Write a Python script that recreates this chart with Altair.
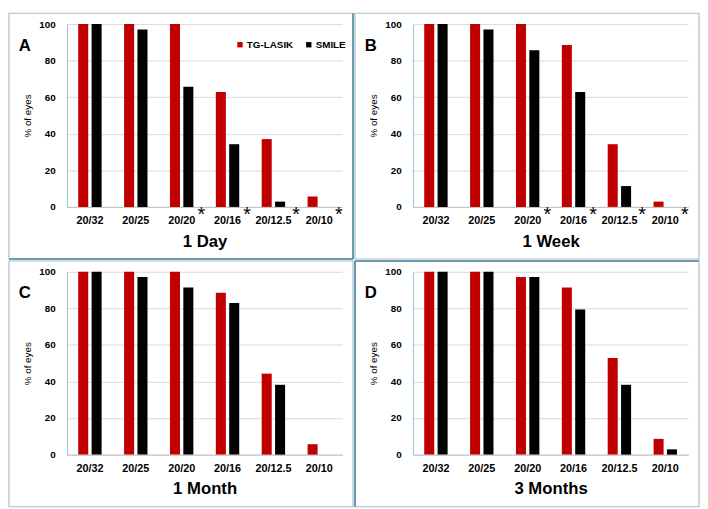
import altair as alt
import pandas as pd

categories = ["20/32", "20/25", "20/20", "20/16", "20/12.5", "20/10"]
groups = ["TG-LASIK", "SMILE"]
colors = ["#C00000", "#000000"]

letters = ["A", "B", "C", "D"]
titles = ["1 Day", "1 Week", "1 Month", "3 Months"]

tg_day = [100, 100, 100, 62.9, 37.1, 5.7]
smile_day = [100, 97.1, 65.7, 34.3, 2.9, 0]
tg_week = [100, 100, 100, 88.6, 34.3, 2.9]
smile_week = [100, 97.1, 85.7, 62.9, 11.4, 0]
tg_month = [100, 100, 100, 88.6, 44.3, 5.7]
smile_month = [100, 97.1, 91.4, 82.9, 38.2, 0]
tg_3month = [100, 100, 97.1, 91.4, 52.9, 8.6]
smile_3month = [100, 100, 97.1, 79.4, 38.2, 2.9]

stars_day = ["20/20", "20/16", "20/12.5", "20/10"]
stars_week = ["20/20", "20/16", "20/12.5", "20/10"]
stars_month = []
stars_3month = []

W, H = 280, 186
L, R, T, B = 59, 11, 11, 53
FONT = "Liberation Sans"
LIGHT = "#A9BDC9"
DARK = "#4A86A0"


def panel(letter, title, tg, sm, stars, legend_x, legend_gap, dividers):
    df = pd.DataFrame({
        "cat": categories * 2,
        "group": ["TG-LASIK"] * len(categories) + ["SMILE"] * len(categories),
        "value": tg + sm,
    })
    one = pd.DataFrame({"k": [0]})
    xaxis = alt.Axis(title=title, labelAngle=0, ticks=False,
                     domainColor="#BFBFBF", labelFontSize=11,
                     labelFontWeight="bold", labelPadding=8,
                     labelColor="#000000", titleFontSize=17,
                     titleFontWeight="bold", titlePadding=8,
                     titleColor="#000000", grid=False)
    xscale = alt.Scale(paddingInner=0.49, paddingOuter=0.245)
    bars = alt.Chart(df).mark_bar().encode(
        x=alt.X("cat:N", sort=categories, scale=xscale, axis=xaxis),
        xOffset=alt.XOffset("group:N", sort=groups,
                            scale=alt.Scale(paddingInner=0.25, paddingOuter=0)),
        y=alt.Y("value:Q", scale=alt.Scale(domain=[0, 100], nice=False),
                axis=alt.Axis(title="% of eyes", values=[0, 20, 40, 60, 80, 100],
                              ticks=False, domainColor="#9CC0D2",
                              grid=True, gridColor="#D9D9D9",
                              labelFontSize=10, labelFontWeight="bold",
                              labelPadding=12, labelColor="#000000",
                              titleFontSize=10, titleFontWeight="normal",
                              titlePadding=6, titleColor="#000000")),
        color=alt.Color("group:N", sort=groups,
                        scale=alt.Scale(domain=groups, range=colors),
                        legend=alt.Legend(orient="none", legendX=legend_x,
                                          legendY=16, direction="horizontal",
                                          title=None, symbolType="square",
                                          symbolSize=30, symbolStrokeWidth=0,
                                          labelFontSize=10, labelFontWeight="bold",
                                          labelColor="#000000", labelOffset=2,
                                          columnPadding=legend_gap)),
    )
    layers = [bars]
    five = [s for s in stars if s != "20/12.5"]
    wide = [s for s in stars if s == "20/12.5"]
    for subset, shift in ((five, 20), (wide, 23)):
        if subset:
            layers.append(alt.Chart(pd.DataFrame({"cat": subset})).mark_text(
                text="*", fontSize=20, dx=shift, fill="#000000",
                baseline="middle").encode(
                x=alt.X("cat:N", sort=categories, scale=xscale, axis=xaxis),
                y=alt.value(H + 8)))
    layers.append(alt.Chart(one).mark_text(
        text=letter, fontSize=17, fontWeight="bold", align="left",
        baseline="alphabetic", fill="#000000").encode(
        x=alt.value(-49), y=alt.value(27)))
    layers.append(alt.Chart(one).mark_rect(
        filled=False, stroke=LIGHT, strokeWidth=1.2).encode(
        x=alt.value(-L), x2=alt.value(W + R), y=alt.value(-T), y2=alt.value(H + B)))
    for d in dividers:
        if d == "right":
            enc = dict(x=alt.value(W + R), y=alt.value(-T), y2=alt.value(H + B))
        elif d == "left":
            enc = dict(x=alt.value(-L), y=alt.value(-T), y2=alt.value(H + B))
        elif d == "top":
            enc = dict(y=alt.value(-T), x=alt.value(-L), x2=alt.value(W + R))
        else:
            enc = dict(y=alt.value(H + B), x=alt.value(-L), x2=alt.value(W + R))
        layers.append(alt.Chart(one).mark_rule(color=DARK, strokeWidth=1.5).encode(**enc))
    return alt.layer(*layers).properties(width=W, height=H)


pA = panel(letters[0], titles[0], tg_day, smile_day, stars_day, 171, 10, ["right", "bottom"])
pB = panel(letters[1], titles[1], tg_week, smile_week, stars_week, 177, 12, [])
pC = panel(letters[2], titles[2], tg_month, smile_month, stars_month, 174, 10, [])
pD = panel(letters[3], titles[3], tg_3month, smile_3month, stars_3month, 180, 13, ["top", "left"])

chart = alt.vconcat(
    alt.hconcat(pA, pB, spacing=0),
    alt.hconcat(pC, pD, spacing=0),
    spacing=0,
).properties(padding=0, background="white").configure(font=FONT).configure_view(stroke=None)

chart.save("out.html", embed_options={"renderer": "svg", "actions": False})
